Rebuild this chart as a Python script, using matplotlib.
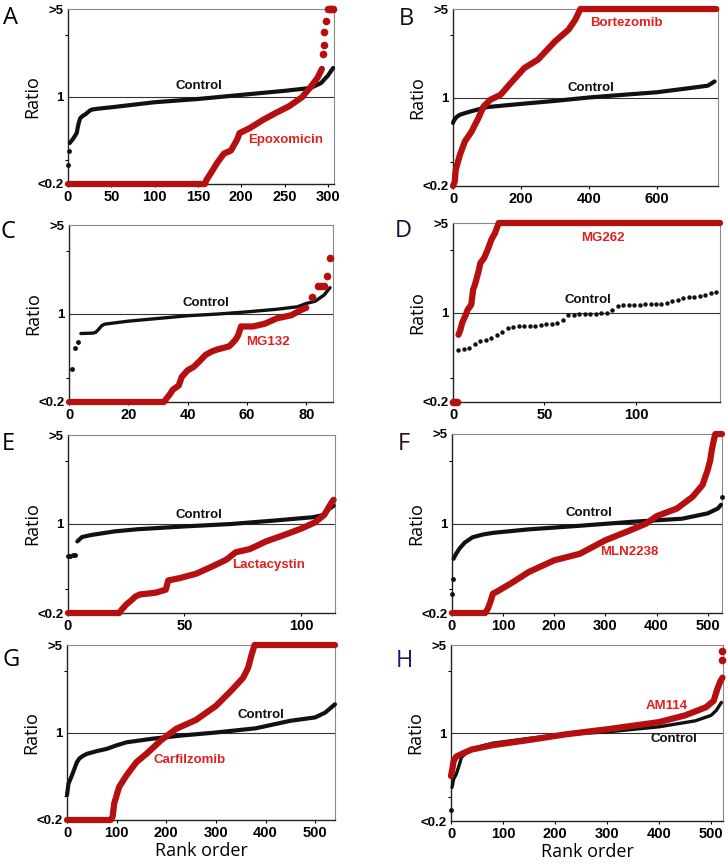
import matplotlib
matplotlib.use("Agg")
import matplotlib.pyplot as plt

# ---- data (rank, ratio) ----
# A  Epoxomicin
a_ctrl_rank = [2, 6, 10, 12, 14, 17, 20, 24, 27, 35, 50, 100, 150, 200, 250, 280, 292, 300, 306]
a_ctrl_ratio = [0.425, 0.46, 0.51, 0.60, 0.67, 0.70, 0.72, 0.76, 0.785, 0.80, 0.82, 0.90, 0.955, 1.03, 1.11, 1.17, 1.28, 1.47, 1.69]
a_ctrl_dot_rank = [0, 1]
a_ctrl_dot_ratio = [0.285, 0.37]
a_drug_rank = [0, 158, 160, 165, 172, 180, 188, 195, 198, 210, 225, 240, 255, 270, 280, 288, 293]
a_drug_ratio = [0.2, 0.2, 0.217, 0.245, 0.294, 0.35, 0.37, 0.45, 0.51, 0.56, 0.65, 0.74, 0.835, 0.985, 1.19, 1.41, 1.66]
a_drug_dot_rank = [294, 295, 296, 298, 300, 302, 304, 306]
a_drug_dot_ratio = [2.19, 2.6, 3.26, 3.98, 5, 5, 5, 5]

# B  Bortezomib
b_ctrl_rank = [0, 3, 10, 20, 40, 70, 100, 200, 300, 400, 500, 600, 700, 750, 770]
b_ctrl_ratio = [0.63, 0.66, 0.70, 0.73, 0.76, 0.80, 0.84, 0.89, 0.94, 1.0, 1.05, 1.10, 1.19, 1.24, 1.34]
b_ctrl_dot_rank = []
b_ctrl_dot_ratio = []
b_drug_rank = [0, 5, 8, 12, 20, 35, 55, 75, 90, 110, 140, 170, 210, 250, 300, 340, 360, 375, 775]
b_drug_ratio = [0.2, 0.216, 0.268, 0.294, 0.35, 0.45, 0.54, 0.69, 0.85, 0.96, 1.05, 1.30, 1.71, 1.99, 2.77, 3.43, 4.12, 5.0, 5.0]
b_drug_dot_rank = []
b_drug_dot_ratio = []

# C  MG132
c_ctrl_rank = [4, 8, 9, 10, 11, 12, 20, 30, 40, 50, 60, 70, 77, 80, 83, 86, 88]
c_ctrl_ratio = [0.695, 0.70, 0.71, 0.75, 0.80, 0.824, 0.87, 0.914, 0.96, 0.99, 1.03, 1.08, 1.13, 1.20, 1.25, 1.40, 1.60]
c_ctrl_dot_rank = [1, 2, 3]
c_ctrl_dot_ratio = [0.363, 0.535, 0.60]
c_drug_rank = [0, 32, 33, 34, 35, 37, 38, 40, 42, 44, 46, 48, 50, 54, 56, 57, 58, 62, 66, 70, 75, 78, 80]
c_drug_ratio = [0.2, 0.2, 0.215, 0.23, 0.25, 0.27, 0.315, 0.356, 0.378, 0.42, 0.47, 0.50, 0.52, 0.55, 0.615, 0.67, 0.79, 0.79, 0.83, 0.914, 0.97, 1.06, 1.11]
c_drug_dot_rank = [82, 84, 85, 86, 87, 88]
c_drug_dot_ratio = [1.35, 1.65, 1.65, 1.66, 1.99, 2.72]

# D  MG262
d_ctrl_rank = []
d_ctrl_ratio = []
d_ctrl_dot_rank = [3, 6, 9, 12, 15, 18, 21, 24, 27, 30, 33, 36, 39, 42, 45, 48, 51, 54, 57, 60,
                   63, 66, 69, 72, 75, 78, 81, 84, 87, 90, 93, 96, 99, 102, 105, 108, 111, 114,
                   117, 120, 123, 126, 129, 132, 135, 138, 141, 144]
d_ctrl_dot_ratio = [0.51, 0.52, 0.53, 0.57, 0.60, 0.61, 0.63, 0.67, 0.71, 0.75, 0.77, 0.78, 0.78,
                    0.79, 0.79, 0.80, 0.81, 0.82, 0.83, 0.88, 0.95, 0.96, 0.97, 0.97, 0.98, 0.98,
                    0.99, 0.99, 1.05, 1.13, 1.14, 1.15, 1.15, 1.15, 1.16, 1.16, 1.17, 1.17, 1.19,
                    1.22, 1.25, 1.29, 1.31, 1.33, 1.35, 1.38, 1.41, 1.44]
d_drug_rank = [3, 4, 5, 7, 8, 10, 11, 12, 14, 15, 17, 19, 21, 23, 25, 146]
d_drug_ratio = [0.67, 0.73, 0.83, 0.96, 1.05, 1.15, 1.51, 1.65, 2.10, 2.44, 2.66, 3.10, 3.71, 4.18, 5, 5]
d_drug_dot_rank = [0, 1, 2]
d_drug_dot_ratio = [0.2, 0.2, 0.2]

# E  Lactacystin
e_ctrl_rank = [4, 6, 10, 20, 30, 50, 70, 90, 105, 110, 112, 114]
e_ctrl_ratio = [0.73, 0.79, 0.82, 0.875, 0.91, 0.957, 1.0, 1.07, 1.13, 1.18, 1.31, 1.39]
e_ctrl_dot_rank = [0, 1, 2, 3]
e_ctrl_dot_ratio = [0.56, 0.56, 0.57, 0.57]
e_drug_rank = [0, 22, 23, 25, 27, 29, 31, 35, 38, 42, 43, 48, 55, 62, 68, 72, 78, 85, 92, 100, 106, 110, 113, 114]
e_drug_ratio = [0.2, 0.2, 0.212, 0.233, 0.25, 0.27, 0.28, 0.285, 0.29, 0.305, 0.36, 0.376, 0.407, 0.465,
                0.525, 0.60, 0.635, 0.73, 0.81, 0.918, 1.03, 1.18, 1.46, 1.55]
e_drug_dot_rank = []
e_drug_dot_ratio = []

# F  MLN2238
f_ctrl_rank = [3, 8, 15, 25, 40, 60, 80, 150, 250, 350, 450, 500, 520, 526]
f_ctrl_ratio = [0.53, 0.58, 0.64, 0.71, 0.78, 0.82, 0.845, 0.90, 0.96, 1.03, 1.09, 1.2, 1.31, 1.40]
f_ctrl_dot_rank = [0, 2, 528]
f_ctrl_dot_ratio = [0.283, 0.37, 1.61]
f_drug_rank = [0, 65, 70, 75, 80, 90, 120, 150, 200, 250, 300, 350, 380, 400, 440, 470, 490, 500,
               505, 508, 512, 515, 528]
f_drug_ratio = [0.2, 0.2, 0.216, 0.244, 0.283, 0.297, 0.35, 0.418, 0.516, 0.58, 0.74, 0.89, 1.0, 1.14,
                1.31, 1.61, 2.0, 2.62, 3.12, 3.74, 4.48, 5, 5]
f_drug_dot_rank = []
f_drug_dot_ratio = []

# G  Carfilzomib
g_ctrl_rank = [0, 3, 10, 15, 20, 25, 32, 40, 60, 80, 100, 120, 170, 230, 300, 380, 450, 500, 520, 540]
g_ctrl_ratio = [0.316, 0.39, 0.455, 0.514, 0.58, 0.62, 0.65, 0.675, 0.71, 0.74, 0.79, 0.835, 0.89, 0.945,
                1.0, 1.08, 1.24, 1.32, 1.44, 1.68]
g_ctrl_dot_rank = []
g_ctrl_dot_ratio = []
g_drug_rank = [0, 88, 92, 95, 105, 120, 140, 160, 190, 220, 260, 300, 330, 355, 365, 372, 378, 540]
g_drug_ratio = [0.2, 0.2, 0.213, 0.27, 0.367, 0.455, 0.58, 0.675, 0.87, 1.07, 1.26, 1.63, 2.14, 2.74, 3.29, 4.19, 5, 5]
g_drug_dot_rank = []
g_drug_dot_ratio = []

# H  AM114
h_ctrl_rank = [2, 5, 10, 16, 20, 30, 40, 60, 80, 150, 220, 300, 400, 470, 500, 510, 520]
h_ctrl_ratio = [0.37, 0.43, 0.47, 0.56, 0.64, 0.70, 0.735, 0.79, 0.83, 0.906, 0.975, 1.02, 1.12, 1.25, 1.38, 1.51, 1.75]
h_ctrl_dot_rank = [0]
h_ctrl_dot_ratio = [0.243]
h_drug_rank = [0, 3, 5, 10, 20, 40, 80, 150, 220, 300, 400, 450, 490, 505, 512, 518, 522]
h_drug_ratio = [0.455, 0.53, 0.596, 0.65, 0.68, 0.74, 0.80, 0.88, 0.975, 1.07, 1.22, 1.38, 1.60, 1.80, 2.23, 2.58, 2.75]
h_drug_dot_rank = [522, 522]
h_drug_dot_ratio = [3.82, 4.48]

letters = ["A", "B", "C", "D", "E", "F", "G", "H"]
drugs = ["Epoxomicin", "Bortezomib", "MG132", "MG262", "Lactacystin", "MLN2238", "Carfilzomib", "AM114"]
x_max = [307, 780, 89, 146, 114.6, 528, 540, 523]
x_ticks = [[0, 50, 100, 150, 200, 250, 300], [0, 200, 400, 600], [0, 20, 40, 60, 80], [0, 50, 100],
           [0, 50, 100], [0, 100, 200, 300, 400, 500], [0, 100, 200, 300, 400, 500], [0, 100, 200, 300, 400, 500]]
ctrl_label_pos = [(151, 1.22), (407, 1.19), (46, 1.2), (74, 1.26), (56, 1.18), (268, 1.21), (391, 1.38), (428, 0.89)]
drug_label_pos = [(251, 0.45), (511, 3.87), (67, 0.6), (82, 3.85), (86, 0.48), (346, 0.6), (246, 0.6), (414, 1.65)]

series = [
    (a_ctrl_rank, a_ctrl_ratio, a_ctrl_dot_rank, a_ctrl_dot_ratio, a_drug_rank, a_drug_ratio, a_drug_dot_rank, a_drug_dot_ratio),
    (b_ctrl_rank, b_ctrl_ratio, b_ctrl_dot_rank, b_ctrl_dot_ratio, b_drug_rank, b_drug_ratio, b_drug_dot_rank, b_drug_dot_ratio),
    (c_ctrl_rank, c_ctrl_ratio, c_ctrl_dot_rank, c_ctrl_dot_ratio, c_drug_rank, c_drug_ratio, c_drug_dot_rank, c_drug_dot_ratio),
    (d_ctrl_rank, d_ctrl_ratio, d_ctrl_dot_rank, d_ctrl_dot_ratio, d_drug_rank, d_drug_ratio, d_drug_dot_rank, d_drug_dot_ratio),
    (e_ctrl_rank, e_ctrl_ratio, e_ctrl_dot_rank, e_ctrl_dot_ratio, e_drug_rank, e_drug_ratio, e_drug_dot_rank, e_drug_dot_ratio),
    (f_ctrl_rank, f_ctrl_ratio, f_ctrl_dot_rank, f_ctrl_dot_ratio, f_drug_rank, f_drug_ratio, f_drug_dot_rank, f_drug_dot_ratio),
    (g_ctrl_rank, g_ctrl_ratio, g_ctrl_dot_rank, g_ctrl_dot_ratio, g_drug_rank, g_drug_ratio, g_drug_dot_rank, g_drug_dot_ratio),
    (h_ctrl_rank, h_ctrl_ratio, h_ctrl_dot_rank, h_ctrl_dot_ratio, h_drug_rank, h_drug_ratio, h_drug_dot_rank, h_drug_dot_ratio),
]

# axes boxes in pixels (left, top, right, bottom) of the 728x864 figure
boxes = [(68, 9, 334, 184), (453, 9, 718, 186), (69, 225, 333, 402), (453, 223, 720, 402),
         (68, 435, 335, 613), (452, 434, 722, 613), (67, 645, 335, 820), (451, 645, 723, 821)]
letter_xy = [(3, 6), (399, 7), (1, 220), (395, 219), (2, 432), (398, 432), (2, 648), (396, 649)]
letter_col = ["black", "#111111", "black", "#14143c", "black", "#2a0a20", "black", "#1c1c6e"]

RED = "#b5100f"
RED_TXT = "#e0201e"
W, H = 728, 864

fig = plt.figure(figsize=(7.28, 8.64), dpi=100)
tick_font = {"family": "Liberation Sans", "weight": "bold"}

for i in range(8):
    l, t, r, b = boxes[i]
    ax = fig.add_axes([l / W, 1 - b / H, (r - l) / W, (b - t) / H])
    cr, cv, cdr, cdv, dr, dv, ddr, ddv = series[i]
    lw_c = 2.4 if i in (2, 7) else 3.0
    if cr:
        ax.plot(cr, cv, color="#111111", lw=lw_c, solid_capstyle="round", solid_joinstyle="round",
                clip_on=False, zorder=3)
    if cdr:
        ax.plot(cdr, cdv, "o", color="#111111", ms=3.2 if i == 3 else 3.5, mec="none", clip_on=False, zorder=3)
    ax.plot(dr, dv, color=RED, lw=4.5, solid_capstyle="round", solid_joinstyle="round",
            clip_on=False, zorder=4)
    if ddr:
        ax.plot(ddr, ddv, "o", color=RED, ms=5.5, mec="none", clip_on=False, zorder=4)

    ax.axhline(1, color="#333333", lw=0.8, zorder=2)
    ax.set_yscale("log")
    ax.set_ylim(0.2, 5)
    ax.set_xlim(0, x_max[i])
    ax.set_yticks([0.2, 1, 5])
    ax.set_yticklabels(["<0.2", "1", ">5"], fontdict=tick_font, fontsize=9.5)
    ax.set_yticks([0.31, 3.1], minor=True)
    ax.yaxis.set_minor_formatter(plt.NullFormatter())
    ax.set_xticks(x_ticks[i])
    ax.set_xticklabels([str(v) for v in x_ticks[i]], fontdict=tick_font, fontsize=10.5)
    ax.tick_params(axis="y", which="major", length=0, pad=3)
    ax.tick_params(axis="y", which="minor", length=2.5, width=0.8)
    ax.tick_params(axis="x", length=2.5, width=0.8, pad=2)

    for side in ("top", "right"):
        ax.spines[side].set_color("#8a8a8a")
        ax.spines[side].set_linewidth(0.8)
    for side in ("left", "bottom"):
        ax.spines[side].set_color("#222222")
        ax.spines[side].set_linewidth(1.0)

    ax.set_ylabel("Ratio", family="Open Sans", fontsize=13)
    ax.yaxis.set_label_coords(-27 / (r - l), 0.5)
    if i >= 6:
        ax.set_xlabel("Rank order", family="Open Sans", fontsize=13, labelpad=1)

    cx, cy = ctrl_label_pos[i]
    ax.text(cx, cy, "Control", ha="center", va="center", color="#111111", fontsize=9.5,
            family="Liberation Sans", weight="bold", zorder=5)
    dx, dy = drug_label_pos[i]
    ax.text(dx, dy, drugs[i], ha="center", va="center", color=RED_TXT, fontsize=9.5,
            family="Liberation Sans", weight="bold", zorder=5)

    lx, ly = letter_xy[i]
    fig.text(lx / W, 1 - ly / H, letters[i], ha="left", va="top", fontsize=17,
             family="Open Sans", color=letter_col[i])

fig.savefig("out.png", dpi=100)
